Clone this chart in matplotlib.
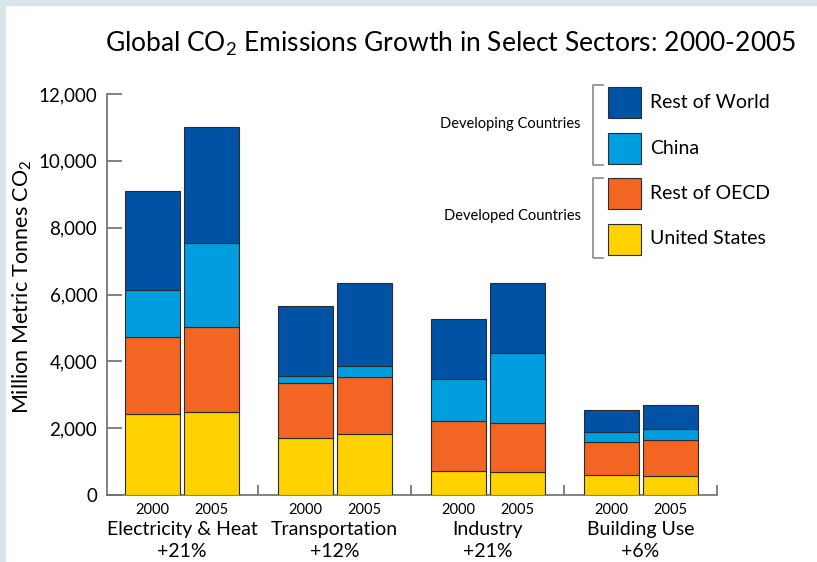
import numpy as np
import matplotlib
matplotlib.use("Agg")
import matplotlib.pyplot as plt
from matplotlib.patches import Rectangle
from matplotlib.lines import Line2D
import matplotlib.transforms as mtransforms

plt.rcParams['font.family'] = ['Lato', 'DejaVu Sans']
plt.rcParams['mathtext.fontset'] = 'custom'
plt.rcParams['mathtext.rm'] = 'Lato'
plt.rcParams['mathtext.default'] = 'regular'

# data (million metric tonnes CO2)
sectors = ['Electricity & Heat', 'Transportation', 'Industry', 'Building Use']
growth = ['+21%', '+12%', '+21%', '+6%']
years = ['2000', '2005']
series = ['United States', 'Rest of OECD', 'China', 'Rest of World']
us_2000 = [2430, 1710, 720, 600]
us_2005 = [2490, 1830, 700, 580]
oecd_2000 = [2310, 1630, 1490, 1000]
oecd_2005 = [2550, 1700, 1450, 1060]
china_2000 = [1380, 220, 1260, 280]
china_2005 = [2500, 330, 2110, 330]
row_2000 = [2970, 2110, 1790, 670]
row_2005 = [3470, 2480, 2090, 730]
colors = ['#ffd200', '#f26522', '#009ede', '#0053a4']

values = {
    '2000': [us_2000, oecd_2000, china_2000, row_2000],
    '2005': [us_2005, oecd_2005, china_2005, row_2005],
}

fig = plt.figure(figsize=(8.17, 5.62), dpi=100)
fig.patch.set_facecolor('white')
# pale frame strips at the top and left
fig.patches.append(Rectangle((0, 0), 5 / 817, 1, transform=fig.transFigure,
                             color='#d8e3ea', zorder=0))
fig.patches.append(Rectangle((0, 1 - 5 / 562), 1, 5 / 562, transform=fig.transFigure,
                             color='#d8e3ea', zorder=0))

ax = fig.add_axes([107 / 817, 1 - 495 / 562, (717 - 107) / 817, (495 - 94) / 562])

x = np.arange(len(sectors))
width = 0.36
offsets = [-0.193, 0.193]
for off, yr in zip(offsets, years):
    bottom = np.zeros(len(sectors))
    for vals, c in zip(values[yr], colors):
        ax.bar(x + off, vals, width, bottom=bottom, color=c,
               edgecolor='#2b2b2b', linewidth=0.8, zorder=3)
        bottom += np.array(vals)

ax.set_xlim(-0.49, 3.5)
ax.set_ylim(0, 12000)
ax.set_yticks(np.arange(0, 12001, 2000))
ax.set_yticklabels([f'{v:,}' for v in range(0, 12001, 2000)], fontsize=13.5)
ax.tick_params(axis='y', direction='in', length=11, width=1.2, color='#6d6d6d',
               pad=7)

ax.set_xticks(np.concatenate([x + offsets[0], x + offsets[1]]))
ax.set_xticklabels([years[0]] * 4 + [years[1]] * 4, fontsize=10.5)
ax.tick_params(axis='x', which='major', length=0, pad=6)
ax.set_xticks(x + 0.5, minor=True)
ax.tick_params(axis='x', which='minor', direction='in', length=7, width=1.2,
               color='#6d6d6d')

for s in ['top', 'right']:
    ax.spines[s].set_visible(False)
for s in ['left', 'bottom']:
    ax.spines[s].set_color('#6d6d6d')
    ax.spines[s].set_linewidth(1.2)

trans = mtransforms.blended_transform_factory(ax.transData, ax.transAxes)
for xi, name, g in zip(x, sectors, growth):
    ax.text(xi, -0.085, name, transform=trans, ha='center', va='center', fontsize=14)
    ax.text(xi, -0.14, g, transform=trans, ha='center', va='center', fontsize=14)

ax.set_ylabel('Million Metric Tonnes CO$_2$', fontsize=15.5)
ax.yaxis.set_label_coords(-0.12, 0.52)

fig.text(0.551, 0.922, 'Global CO$_2$ Emissions Growth in Select Sectors: 2000-2005',
         ha='center', va='center', fontsize=19)

# legend: top to bottom, with group brackets
leg_order = list(reversed(series))
leg_colors = list(reversed(colors))
tops = [87, 133, 178, 224]
for name, c, t in zip(leg_order, leg_colors, tops):
    fig.patches.append(Rectangle((608 / 817, 1 - (t + 31) / 562), 33 / 817, 31 / 562,
                                 transform=fig.transFigure, facecolor=c,
                                 edgecolor='#2b2b2b', linewidth=0.8))
    fig.text(650 / 817, 1 - (t + 15) / 562, name, ha='left', va='center', fontsize=14)

for (y0, y1), label, ly in [((85, 165), 'Developing Countries', 124),
                            ((178, 258), 'Developed Countries', 216)]:
    xs = [603 / 817, 593 / 817, 593 / 817, 603 / 817]
    ys = [1 - y0 / 562, 1 - y0 / 562, 1 - y1 / 562, 1 - y1 / 562]
    fig.lines.append(Line2D(xs, ys, transform=fig.transFigure, color='#8a8a8a',
                            linewidth=1.2))
    fig.text(581 / 817, 1 - ly / 562, label, ha='right', va='center', fontsize=10.5)

fig.savefig('out.png', dpi=100)
